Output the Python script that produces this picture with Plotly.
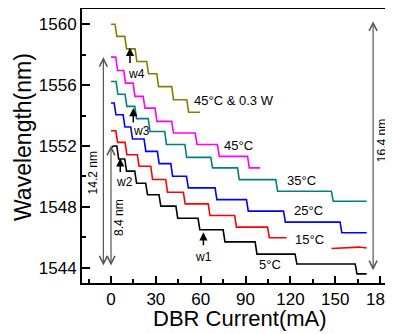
import plotly.graph_objects as go

FONT = "Liberation Sans, Arial, sans-serif"

# ---- data (DBR current in mA, wavelength in nm) ----
# 5 °C (black)
t5_steps = [4.5, 9.8, 16.5, 23.8, 32.7, 44.0, 58.8, 75.6, 97.0, 123.7, 163.9]
t5_levels = [1552.0, 1551.15, 1550.35, 1549.55, 1548.8, 1548.05, 1547.25, 1546.5, 1545.7, 1544.9, 1544.25, 1543.6]
t5_start, t5_end = 1551.85, 171.0
# 15 °C (red)
t15_steps = [3.8, 10.0, 18.2, 27.2, 37.2, 49.0, 65.6, 83.3, 105.3]
t15_levels = [1553.0, 1552.24, 1551.43, 1550.67, 1549.8, 1548.96, 1548.2, 1547.43, 1546.67, 1545.97]
t15_end = 117.5
t15_tail_x = [147.5, 158.0, 166.0, 171.0]
t15_tail_y = [1545.27, 1545.31, 1545.36, 1545.3]
# 25 °C (blue)
t25_steps = [2.7, 8.7, 13.8, 22.7, 31.6, 40.6, 51.1, 70.2, 91.2, 116.0, 153.8]
t25_levels = [1554.82, 1554.05, 1553.25, 1552.46, 1551.65, 1550.84, 1550.01, 1549.25, 1548.48, 1547.72, 1547.0, 1546.3]
t25_end = 171.0
# 35 °C (teal)
t35_steps = [4.0, 10.0, 16.5, 25.5, 36.5, 50.0, 67.3, 85.2, 110.8, 148.0]
t35_levels = [1556.24, 1555.4, 1554.6, 1553.8, 1552.95, 1552.1, 1551.25, 1550.56, 1549.79, 1549.03, 1548.37]
t35_end = 171.0
# 45 °C (magenta)
t45_steps = [3.8, 9.1, 15.4, 22.1, 30.1, 41.2, 56.9, 71.8, 91.9]
t45_levels = [1557.84, 1556.96, 1556.13, 1555.26, 1554.49, 1553.62, 1552.85, 1552.1, 1551.32, 1550.56]
t45_end = 99.7
# 45 °C & 0.3 W (olive)
tw_steps = [3.3, 9.8, 16.7, 24.5, 31.2, 41.2, 51.3]
tw_levels = [1560.0, 1559.2, 1558.38, 1557.55, 1556.75, 1555.9, 1555.04, 1554.22]
tw_end = 59.5

curve_labels = ["5°C", "15°C", "25°C", "35°C", "45°C", "45°C & 0.3 W"]
label_x = [106.4, 132.9, 132.2, 127.3, 85.2, 54.0]
label_y = [1544.2, 1545.84, 1547.76, 1549.73, 1552.02, 1554.97]

marker_names = ["w1", "w2", "w3", "w4"]
marker_x = [61.8, 6.2, 14.9, 12.7]
marker_tip = [1546.34, 1551.2, 1554.5, 1558.45]
marker_tail = [1545.38, 1550.2, 1553.45, 1557.35]
marker_lx = [61.8, 8.9, 20.5, 17.2]
marker_ly = [1544.72, 1549.65, 1552.96, 1556.72]

span_labels = ["14.2 nm", "8.4 nm", "16.4 nm"]
span_x = [-5.1, 0.0, 175.3]
span_top = [1557.84, 1552.02, 1560.2]
span_bot = [1544.05, 1544.05, 1543.74]
span_lx = [-11.4, 5.4, 180.9]
span_ly = [1550.26, 1547.28, 1552.35]

x_ticks = [0, 30, 60, 90, 120, 150, 180]
y_ticks = [1544, 1548, 1552, 1556, 1560]


def staircase(steps, levels, end_x, start_y=None, w=0.6):
    xs = [0.0]
    ys = [levels[0] if start_y is None else start_y]
    if start_y is not None:
        xs.append(1.5)
        ys.append(levels[0])
    for s, a, b in zip(steps, levels[:-1], levels[1:]):
        xs += [s - w, s + w]
        ys += [a, b]
    xs.append(end_x)
    ys.append(levels[-1])
    return xs, ys


fig = go.Figure()

curves = [
    (t5_steps, t5_levels, t5_end, t5_start, "#000000"),
    (t15_steps, t15_levels, t15_end, None, "#ff0000"),
    (t25_steps, t25_levels, t25_end, None, "#0000ff"),
    (t35_steps, t35_levels, t35_end, None, "#008080"),
    (t45_steps, t45_levels, t45_end, None, "#ff00ff"),
    (tw_steps, tw_levels, tw_end, None, "#808000"),
]
for steps, levels, end_x, sy, col in curves:
    xs, ys = staircase(steps, levels, end_x, sy)
    fig.add_trace(go.Scatter(x=xs, y=ys, mode="lines",
                             line=dict(color=col, width=1.6), hoverinfo="skip"))
fig.add_trace(go.Scatter(x=t15_tail_x, y=t15_tail_y, mode="lines",
                         line=dict(color="#ff0000", width=1.6), hoverinfo="skip"))

ann = []
for t, x, y in zip(curve_labels, label_x, label_y):
    ann.append(dict(x=x, y=y, text=t, showarrow=False,
                    xanchor="left" if "W" in t else "center", yanchor="middle",
                    font=dict(family=FONT, size=13, color="black")))

for t, x, tip, tail, lx, ly in zip(marker_names, marker_x, marker_tip, marker_tail, marker_lx, marker_ly):
    ann.append(dict(x=x, y=tip, ax=x, ay=tail, axref="x", ayref="y", text="",
                    showarrow=True, arrowhead=2, arrowsize=1.1, arrowwidth=1.5,
                    arrowcolor="black"))
    ann.append(dict(x=lx, y=ly, text=t, showarrow=False, xanchor="center", yanchor="middle",
                    font=dict(family=FONT, size=12, color="black")))

for t, x, top, bot, lx, ly in zip(span_labels, span_x, span_top, span_bot, span_lx, span_ly):
    ann.append(dict(x=x, y=top, ax=x, ay=bot, axref="x", ayref="y", text="",
                    showarrow=True, arrowhead=5, arrowside="end+start", arrowsize=1.3,
                    arrowwidth=1.2, arrowcolor="#555555"))
    ann.append(dict(x=lx, y=ly, text=t, showarrow=False, textangle=-90,
                    xanchor="center", yanchor="middle",
                    font=dict(family=FONT, size=12, color="black")))

# axis titles
ann.append(dict(xref="paper", yref="paper", x=0, y=0.5, xshift=-59, yshift=9,
                text="Wavelength(nm)", textangle=-90, showarrow=False,
                xanchor="center", yanchor="middle",
                font=dict(family=FONT, size=23, color="black")))
ann.append(dict(xref="paper", yref="paper", x=0.5, y=0, yshift=-35, xshift=2,
                text="DBR Current(mA)", showarrow=False,
                xanchor="center", yanchor="middle",
                font=dict(family=FONT, size=22, color="black")))

# the page body has an 8px default margin, so the figure is sized to fit the window
fig.update_layout(
    width=385, height=326,
    margin=dict(l=74, r=0, t=1, b=51, autoexpand=False),
    paper_bgcolor="white", plot_bgcolor="white",
    showlegend=False,
    annotations=ann,
    xaxis=dict(range=[-19.4, 188.6], tickvals=x_ticks, ticks="inside", ticklen=7,
               tickwidth=1.5, tickcolor="black", showline=True, linewidth=2,
               linecolor="black", mirror=True, showgrid=False, zeroline=False,
               automargin=False, ticklabeloverflow="allow",
               tickfont=dict(family=FONT, size=17, color="black"),
               minor=dict(dtick=15, tick0=0, ticks="inside", ticklen=4,
                          tickwidth=1.5, tickcolor="black", showgrid=False)),
    yaxis=dict(range=[1543, 1561], tickvals=y_ticks, ticks="inside", ticklen=8,
               tickwidth=1.5, tickcolor="black", showline=True, linewidth=2,
               linecolor="black", showgrid=False, zeroline=False,
               automargin=False, ticklabeloverflow="allow",
               tickfont=dict(family=FONT, size=17, color="black"),
               minor=dict(dtick=2, tick0=1544, ticks="inside", ticklen=4,
                          tickwidth=1.5, tickcolor="black", showgrid=False)),
)

fig.write_html("out.html")
